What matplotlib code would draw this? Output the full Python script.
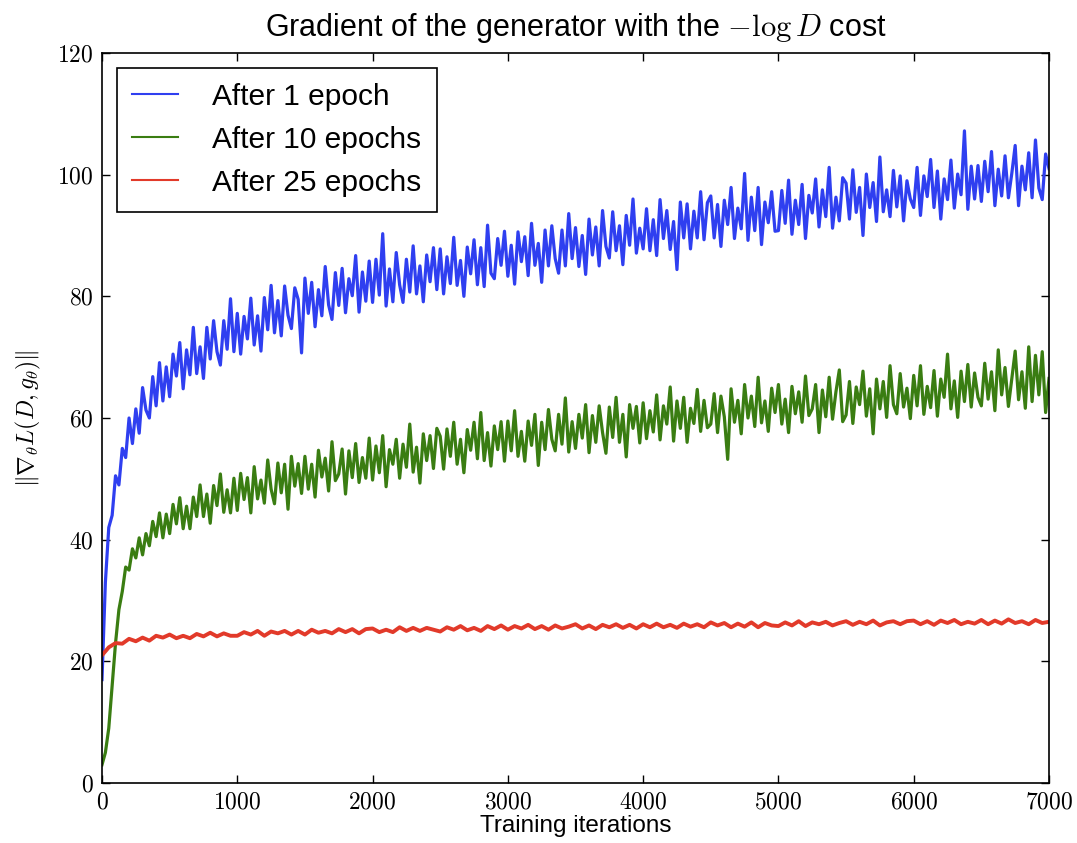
import numpy as np
import matplotlib
matplotlib.use('Agg')
import matplotlib.pyplot as plt
from matplotlib.ticker import FuncFormatter

plt.rcParams['font.family'] = ['Liberation Sans', 'DejaVu Sans']
plt.rcParams['mathtext.fontset'] = 'cm'

# gradient norm, one value every 25 iterations (red every 50)
blue_1_epoch = [
    17, 33, 42, 44, 50.5, 49, 55, 53.5, 60, 55.8, 61.5, 57.5, 65, 61.3, 60, 66.8, 62, 69.1, 62.8, 68.4,
    63.5, 70.5, 66.9, 72.4, 64.8, 71.2, 67.1, 74.9, 67.3, 71.7, 66.5, 74.9, 69.7, 76, 70.9, 68.7, 76, 71.3, 79.6, 70.9,
    77.2, 70.5, 76.7, 73, 79.7, 72, 76.8, 71, 79.8, 74.5, 81.8, 74, 79.3, 73.5, 81.7, 76.9, 74.7, 81.4, 79.5, 70.7,
    83, 77.2, 82.3, 75, 81.1, 76.8, 84.9, 78.6, 76.2, 83.9, 78.5, 84.6, 77.3, 82.9, 80.1, 86.7, 77.4, 84, 79.2, 85.8,
    79, 86.1, 80.2, 90.3, 78.4, 84.5, 79.1, 87.2, 81.9, 79, 86.1, 80.7, 88.3, 80.4, 85, 79.1, 86.8, 82.4, 88, 81.1,
    87.8, 80.4, 86.5, 82.1, 89.7, 81.8, 85.9, 80, 88.1, 83.7, 89.3, 81.9, 88, 81.6, 91.7, 83.8, 82.9, 89.5, 85.1, 90.7,
    83.3, 88.4, 82, 90.6, 85.7, 89.8, 83.4, 92, 85.1, 88.7, 82.3, 90.9, 85, 91.6, 86.2, 83.8, 90.9, 85, 93.6, 86.2,
    91.3, 84.9, 90, 83.6, 92.7, 86.8, 91.4, 85, 94.1, 88.2, 86.3, 93.9, 87.5, 91.6, 85.2, 93.3, 88.4, 96, 87.1, 91.2,
    87.8, 94.4, 87.5, 92.6, 86.7, 95.9, 89.5, 94.1, 87.7, 92.3, 84.4, 95.5, 89.6, 95.2, 87.8, 94, 89.6, 97.2, 89.3, 95.4,
    96.5, 89.6, 95.1, 88.2, 95.8, 91.8, 97.9, 89.5, 94.5, 91.1, 100.2, 89.2, 96.3, 90.8, 97.9, 88.5, 95.5, 92.1, 97.2, 90.7,
    90.8, 97.4, 92, 99.1, 90.2, 95.8, 91.8, 98.4, 89.5, 96.6, 93.7, 99.3, 91.4, 97.5, 93.1, 101.2, 91.2, 96.3, 92.4, 99.5,
    98.6, 92.7, 100.8, 93.8, 97.9, 90, 100.1, 94.6, 98.7, 92.3, 102.9, 93.9, 97.5, 93.1, 100.7, 94.7, 99.8, 92.4, 99, 96,
    94.6, 101.2, 93.3, 99.8, 96.4, 102.5, 94.6, 100.6, 92.7, 99.3, 95.9, 102.4, 94.5, 100.1, 96.7, 107.2, 94.3, 101.4, 96, 101.5,
    95.6, 102.2, 97.2, 103.8, 94.9, 100.9, 96.5, 103.1, 96.2, 100.2, 104.8, 94.9, 101.4, 97.5, 103.6, 96.2, 105.7, 97.8, 95.9, 103.4,
    101]

green_10_epochs = [
    3, 5, 9, 16, 23, 28.5, 31.5, 35.5, 35, 38.5, 37, 40.3, 37.5, 41, 39, 43, 40.5, 44.4, 40.3, 44.2,
    41, 45.8, 42.6, 46.9, 41.8, 45.5, 41.8, 47, 43.8, 49, 43.8, 47.5, 42.7, 48.9, 45.6, 50.8, 44.5, 48.2, 44.4, 50.1,
    44.8, 50.9, 46.6, 50.2, 44.4, 52, 46.7, 49.8, 46, 53.1, 48.3, 45.9, 52.6, 47.7, 52.4, 45, 53.7, 48.8, 52.5, 47.6,
    53.7, 48.3, 52.4, 47, 54.7, 50.3, 53.4, 48, 56.1, 49.7, 50.8, 54.9, 47.5, 54.6, 50.2, 55.8, 49.4, 53.5, 50.1, 56.7,
    49.8, 55.4, 51, 57.1, 48.7, 54.8, 52.4, 56.5, 50.1, 55.7, 51.9, 59, 51.1, 55.2, 49.3, 57.4, 53, 57.1, 51.7, 58.3,
    57, 51.6, 58.2, 53.7, 59.3, 52.4, 56.5, 51, 58.1, 54.7, 59.3, 53.3, 60.9, 53, 57.6, 52.1, 58.7, 54.8, 59.4, 52.9,
    59.5, 54.6, 61.2, 53.7, 57.8, 52.9, 59.5, 55.5, 60.6, 52.2, 59.3, 54.8, 61.4, 56.5, 54.6, 60.6, 55.7, 63.3, 54.4, 59.4,
    55, 60.6, 56.7, 62.2, 54.3, 60.4, 56, 62, 57.6, 54.2, 61.8, 56.8, 63.4, 56, 60.6, 53.6, 62.2, 58.3, 61.9, 55.9,
    62.5, 56.6, 61.2, 57.7, 63.8, 56.4, 62, 59, 65.1, 56.2, 62.8, 58.3, 63.4, 56, 61.6, 59.1, 64.7, 57.8, 62.9, 58.4,
    59, 64, 57.6, 63.6, 60.2, 53.2, 64.8, 59.3, 62.9, 57.4, 65.5, 60, 63.6, 58.6, 66.7, 59.2, 62.8, 57.8, 64.9, 60.9,
    65.5, 59, 63.1, 57.6, 65.2, 60.7, 64.3, 59.3, 66.9, 60.4, 61.5, 65.5, 57.6, 64.6, 60.2, 66.7, 59.8, 64.3, 67.9, 59.4,
    60.5, 66, 59.1, 65.1, 62.2, 67.7, 60.3, 64.8, 57.4, 66.4, 61.5, 66, 60.1, 68.6, 62.2, 60.7, 67.3, 61.8, 64.9, 59.9,
    67, 62, 68.6, 60.6, 65.2, 61.7, 67.8, 60.3, 66.4, 63.4, 70.5, 61.5, 66.1, 60.1, 67.7, 62.7, 68.8, 61.8, 67.4, 63.4,
    62, 69, 63.1, 67.6, 61.2, 71.2, 63.8, 68.3, 61.9, 66.4, 71, 63, 67.6, 61.6, 71.7, 62.7, 70.3, 63.8, 70.9, 60.9,
    66.5]

red_25_epochs = [
    21.0, 22.3, 23.0, 22.9, 23.7, 23.3, 23.9, 23.4, 24.2, 23.9, 24.4, 23.8, 24.2, 23.8, 24.5, 24.1, 24.7, 24.1, 24.6, 24.2,
    24.2, 24.8, 24.4, 25.0, 24.2, 24.9, 24.6, 25.0, 24.4, 25.0, 24.4, 25.2, 24.7, 25.0, 24.6, 25.3, 24.8, 25.3, 24.6, 25.3,
    25.4, 24.8, 25.2, 24.8, 25.6, 25.0, 25.5, 25.0, 25.5, 25.2, 24.9, 25.6, 25.2, 25.8, 25.1, 25.5, 25.0, 25.8, 25.3, 25.9,
    25.2, 25.8, 25.4, 26.0, 25.3, 25.8, 25.2, 25.9, 25.4, 25.7, 26.1, 25.4, 25.9, 25.3, 26.0, 25.6, 26.1, 25.5, 26.0, 25.4,
    26.1, 25.6, 26.2, 25.6, 26.0, 25.5, 26.2, 25.7, 26.1, 25.6, 26.4, 25.9, 26.3, 25.6, 26.2, 25.7, 26.4, 25.6, 26.3, 25.9,
    25.8, 26.4, 25.9, 26.6, 25.8, 26.4, 26.1, 26.5, 25.9, 26.3, 26.6, 26.0, 26.5, 26.1, 26.7, 25.9, 26.4, 26.6, 26.1, 26.6,
    26.7, 26.1, 26.6, 26.0, 26.7, 26.3, 26.8, 26.1, 26.5, 26.2, 26.8, 26.1, 26.7, 26.2, 26.9, 26.3, 26.6, 26.1, 26.8, 26.3,
    26.5]

iters = np.arange(len(blue_1_epoch)) * 25
iters_green = np.arange(len(green_10_epochs)) * 25
iters_red = np.arange(len(red_25_epochs)) * 50

fig = plt.figure(figsize=(10.77, 8.43), dpi=100)
ax = fig.add_axes([102 / 1077, 1 - 783 / 843, 947 / 1077, 730 / 843])

ax.plot(iters, blue_1_epoch, color='#2f3ff0', lw=2.3, label='After 1 epoch')
ax.plot(iters_green, green_10_epochs, color='#3a7d12', lw=2.3, label='After 10 epochs')
ax.plot(iters_red, red_25_epochs, color='#e23a2a', lw=2.8, label='After 25 epochs')

ax.set_xlim(0, 7000)
ax.set_ylim(0, 120)
ax.set_xticks(np.arange(0, 7001, 1000))
ax.set_yticks(np.arange(0, 121, 20))
# tick labels in computer modern like the original
ax.xaxis.set_major_formatter(FuncFormatter(lambda v, p: r'$%d$' % v))
ax.yaxis.set_major_formatter(FuncFormatter(lambda v, p: r'$%d$' % v))
ax.tick_params(direction='in', top=True, right=True, length=6, width=1, labelsize=17, pad=6)
for s in ax.spines.values():
    s.set_linewidth(1.2)

ax.set_title(r'Gradient of the generator with the $-\log D$ cost', fontsize=22, pad=12)
ax.set_xlabel('Training iterations', fontsize=17.5)
ax.set_ylabel(r'$\|\nabla_\theta L(D, g_\theta)\|$', fontsize=17)
ax.xaxis.set_label_coords(0.5, -0.044)
ax.yaxis.set_label_coords(-0.062, 0.5)

leg = ax.legend(loc='upper left', fontsize=21.5, fancybox=False, framealpha=1,
                borderpad=0.5, labelspacing=0.5, handlelength=1.55, handletextpad=1.15,
                borderaxespad=0.5)
leg.get_frame().set_edgecolor('black')
leg.get_frame().set_linewidth(1.2)
for line in leg.get_lines():
    line.set_linewidth(1.5)

fig.savefig('out.png', dpi=100)
